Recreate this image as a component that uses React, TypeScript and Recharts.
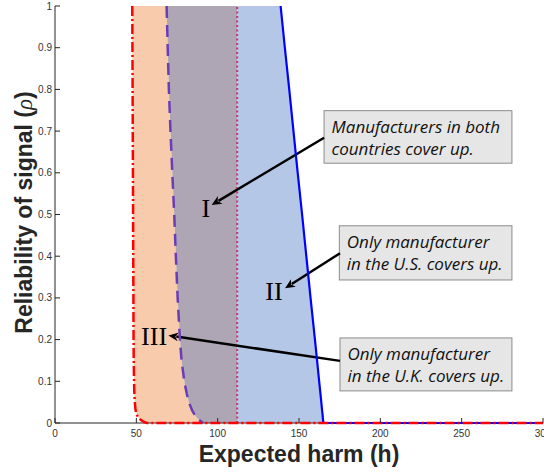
import React from 'react';
import {
  ComposedChart,
  Area,
  Line,
  XAxis,
  YAxis,
  ReferenceLine,
  ReferenceArea,
  ReferenceDot,
} from 'recharts';

// Reliability of signal (rho) levels at which the boundary curves were read
const rhoLevels = [1, 0.9, 0.8, 0.7, 0.6, 0.5, 0.4, 0.3, 0.2, 0.15, 0.1, 0.07, 0.05, 0.03, 0.02, 0.01, 0];
// Expected harm (h) of each boundary at those rho levels
const ukHarm = [47.5, 47.6, 47.7, 47.8, 47.9, 48.0, 48.1, 48.2, 48.3, 48.4, 48.6, 48.8, 49.1, 49.6, 50.3, 52.0, 56.5];
const bothHarm = [68.6, 69.3, 70.0, 71.0, 72.1, 73.3, 74.3, 75.4, 76.8, 77.8, 79.5, 81.0, 82.3, 84.3, 85.8, 87.8, 91.0];
const usHarm = [138.7, 141.3, 144.0, 146.6, 149.2, 151.9, 154.5, 157.1, 159.8, 161.1, 162.4, 163.2, 163.7, 164.2, 164.5, 164.7, 165.0];
const harmMax = 300;
const dividerHarm = 112;

const xTicks = [0, 50, 100, 150, 200, 250, 300];
const yTicks = [0, 0.1, 0.2, 0.3, 0.4, 0.5, 0.6, 0.7, 0.8, 0.9, 1];

// Annotations (data coordinates)
const notes = [
  { lines: ['Manufacturers in both', 'countries cover up.'], h1: 165.4, h2: 280.9, r1: 0.749, r2: 0.623 },
  { lines: ['Only manufacturer', 'in the U.S. covers up.'], h1: 174.8, h2: 280.9, r1: 0.473, r2: 0.343 },
  { lines: ['Only manufacturer', 'in the U.K. covers up.'], h1: 175.2, h2: 280.9, r1: 0.204, r2: 0.077 },
];
const romanLabels = [
  { text: 'I', h: 92.8, r: 0.495 },
  { text: 'II', h: 134.6, r: 0.295 },
  { text: 'III', h: 60.9, r: 0.188 },
];
const arrows = [
  { from: { h: 165.4, r: 0.684 }, to: { h: 96.3, r: 0.523 } },
  { from: { h: 175.2, r: 0.407 }, to: { h: 141.4, r: 0.323 } },
  { from: { h: 175.2, r: 0.149 }, to: { h: 69.7, r: 0.21 } },
];

const data: any[] = rhoLevels.map((rho, i) => ({
  rho,
  uk: ukHarm[i],
  both: bothHarm[i],
  us: usHarm[i],
}));
data.push({ rho: 0, uk: harmMax, us: harmMax });

const AXIS_COLOR = '#262626';
const TICK_FONT = { fontFamily: 'Liberation Sans, Arial, sans-serif', fontSize: 10, fill: '#333' };

const BottomTick = (props: any) => {
  const { x, y, payload } = props;
  return (
    <g>
      <line x1={x} x2={x} y1={y} y2={y - 5} stroke={AXIS_COLOR} strokeWidth={1} />
      <text x={x} y={y + 14} textAnchor="middle" {...TICK_FONT}>
        {payload.value}
      </text>
    </g>
  );
};
const TopTick = (props: any) => {
  const { x, y } = props;
  return <line x1={x} x2={x} y1={y} y2={y + 5} stroke={AXIS_COLOR} strokeWidth={1} />;
};
const LeftTick = (props: any) => {
  const { x, y, payload } = props;
  return (
    <g>
      <line x1={x} x2={x + 5} y1={y} y2={y} stroke={AXIS_COLOR} strokeWidth={1} />
      <text x={x - 3} y={y + 3.5} textAnchor="end" {...TICK_FONT}>
        {payload.value}
      </text>
    </g>
  );
};
const RightTick = (props: any) => {
  const { x, y } = props;
  return <line x1={x} x2={x - 5} y1={y} y2={y} stroke={AXIS_COLOR} strokeWidth={1} />;
};

const XLabel = (props: any) => {
  const vb = props.viewBox || {};
  return (
    <text
      x={vb.x + vb.width / 2}
      y={vb.y + 38.5}
      textAnchor="middle"
      fontFamily="Liberation Sans, Arial, sans-serif"
      fontWeight="bold"
      fontSize={23}
      fill="#262626"
    >
      Expected harm (h)
    </text>
  );
};
const YLabel = (props: any) => {
  const vb = props.viewBox || {};
  const cx = 31.5;
  const cy = vb.y + vb.height / 2 - 2;
  return (
    <text
      x={cx}
      y={cy}
      transform={`rotate(-90 ${cx} ${cy})`}
      textAnchor="middle"
      fontFamily="Liberation Sans, Arial, sans-serif"
      fontWeight="bold"
      fontSize={23}
      fill="#262626"
    >
      Reliability of signal (<tspan fontStyle="italic" fontWeight="normal" fontFamily="Liberation Serif, serif">ρ</tspan>)
    </text>
  );
};

const noteShape = (lines: string[]) => (p: any) => {
  const { x, y, width, height } = p;
  return (
    <g>
      <rect x={x} y={y} width={width} height={height} fill="#E6E6E6" stroke="#8C8C8C" strokeWidth={1} />
      {lines.map((ln, i) => (
        <text
          key={i}
          x={x + 7.5}
          y={y + 22 + i * 22.5}
          fontFamily="'Open Sans', Lato, sans-serif"
          fontStyle="italic"
          fontSize={17}
          fill="#111"
        >
          {ln}
        </text>
      ))}
    </g>
  );
};

const romanShape = (text: string) => (p: any) => (
  <text
    x={p.cx}
    y={p.cy}
    textAnchor="middle"
    fontFamily="Liberation Serif, 'Times New Roman', serif"
    fontSize={26}
    fill="#000"
  >
    {text}
  </text>
);

const arrowShape = (p: any) => {
  const { x1, y1, x2, y2 } = p;
  const dx = x2 - x1;
  const dy = y2 - y1;
  const len = Math.sqrt(dx * dx + dy * dy) || 1;
  const ux = dx / len;
  const uy = dy / len;
  const headLen = 10;
  const headW = 4.5;
  const bx = x2 - ux * headLen;
  const by = y2 - uy * headLen;
  const px = -uy;
  const py = ux;
  return (
    <g>
      <line x1={x1} y1={y1} x2={bx + ux * 2} y2={by + uy * 2} stroke="#000" strokeWidth={2.5} />
      <polygon
        points={`${x2},${y2} ${bx + px * headW},${by + py * headW} ${bx + ux * 3},${by + uy * 3} ${bx - px * headW},${by - py * headW}`}
        fill="#000"
      />
    </g>
  );
};

export default function App() {
  const lineZ: any = { zIndex: 1000 };
  return (
    <div style={{ position: 'absolute', left: 0, top: 0, width: 544, height: 473, background: '#fff' }}>
      <ComposedChart
        width={544}
        height={473}
        data={data}
        layout="vertical"
        margin={{ top: 6, right: 1, bottom: 0, left: 0 }}
      >
        <XAxis
          type="number"
          domain={[0, harmMax]}
          ticks={xTicks}
          interval={0}
          height={50}
          tickSize={0}
          tickMargin={0}
          tickLine={false}
          tick={<BottomTick />}
          axisLine={{ stroke: AXIS_COLOR, strokeWidth: 1 }}
          label={XLabel}
        />
        <XAxis
          xAxisId="top"
          orientation="top"
          type="number"
          domain={[0, harmMax]}
          ticks={xTicks}
          interval={0}
          height={0}
          tickSize={0}
          tickMargin={0}
          tickLine={false}
          tick={<TopTick />}
          axisLine={{ stroke: '#555', strokeWidth: 1 }}
        />
        <YAxis
          type="number"
          dataKey="rho"
          domain={[0, 1]}
          reversed
          ticks={yTicks}
          interval={0}
          width={55}
          tickSize={0}
          tickMargin={0}
          tickLine={false}
          tick={<LeftTick />}
          axisLine={{ stroke: AXIS_COLOR, strokeWidth: 1 }}
          label={YLabel}
        />
        <YAxis
          yAxisId="right"
          orientation="right"
          type="number"
          dataKey="rho"
          domain={[0, 1]}
          reversed
          ticks={yTicks}
          interval={0}
          width={0}
          tickSize={0}
          tickMargin={0}
          tickLine={false}
          tick={<RightTick />}
          axisLine={{ stroke: '#555', strokeWidth: 1 }}
        />

        <Area
          type="linear"
          dataKey={(d: any) => (d.both == null ? null : [d.uk, d.both])}
          fill="#F8CBAD"
          fillOpacity={1}
          stroke="none"
          isAnimationActive={false}
          dot={false}
          activeDot={false}
        />
        <Area
          type="linear"
          dataKey={(d: any) => (d.both == null ? null : [d.both, dividerHarm])}
          fill="#AEA6B4"
          fillOpacity={1}
          stroke="none"
          isAnimationActive={false}
          dot={false}
          activeDot={false}
        />
        <Area
          type="linear"
          dataKey={(d: any) => (d.both == null ? null : [dividerHarm, d.us])}
          fill="#B4C7E7"
          fillOpacity={1}
          stroke="none"
          isAnimationActive={false}
          dot={false}
          activeDot={false}
        />

        <ReferenceLine x={dividerHarm} stroke="#CC3366" strokeWidth={2} strokeDasharray="2 2.5" />

        <Line
          type="linear"
          dataKey="both"
          stroke="#6A3DB8"
          strokeWidth={2.5}
          strokeDasharray="12 7"
          dot={false}
          activeDot={false}
          isAnimationActive={false}
          {...lineZ}
        />
        <Line
          type="linear"
          dataKey="us"
          stroke="#0000FF"
          strokeWidth={2.2}
          dot={false}
          activeDot={false}
          isAnimationActive={false}
          {...lineZ}
        />
        <Line
          type="monotone"
          dataKey="uk"
          stroke="#FF0000"
          strokeWidth={2.5}
          strokeDasharray="10 3 2 3"
          dot={false}
          activeDot={false}
          isAnimationActive={false}
          {...lineZ}
        />

        {arrows.map((a, i) => (
          <ReferenceLine
            key={`a${i}`}
            segment={[
              { x: a.from.h, y: a.from.r },
              { x: a.to.h, y: a.to.r },
            ]}
            stroke="#000"
            shape={arrowShape}
          />
        ))}
        {notes.map((n, i) => (
          <ReferenceArea
            key={`n${i}`}
            x1={n.h1}
            x2={n.h2}
            y1={n.r2}
            y2={n.r1}
            shape={noteShape(n.lines)}
          />
        ))}
        {romanLabels.map((r, i) => (
          <ReferenceDot key={`r${i}`} x={r.h} y={r.r} shape={romanShape(r.text)} />
        ))}
      </ComposedChart>
    </div>
  );
}
